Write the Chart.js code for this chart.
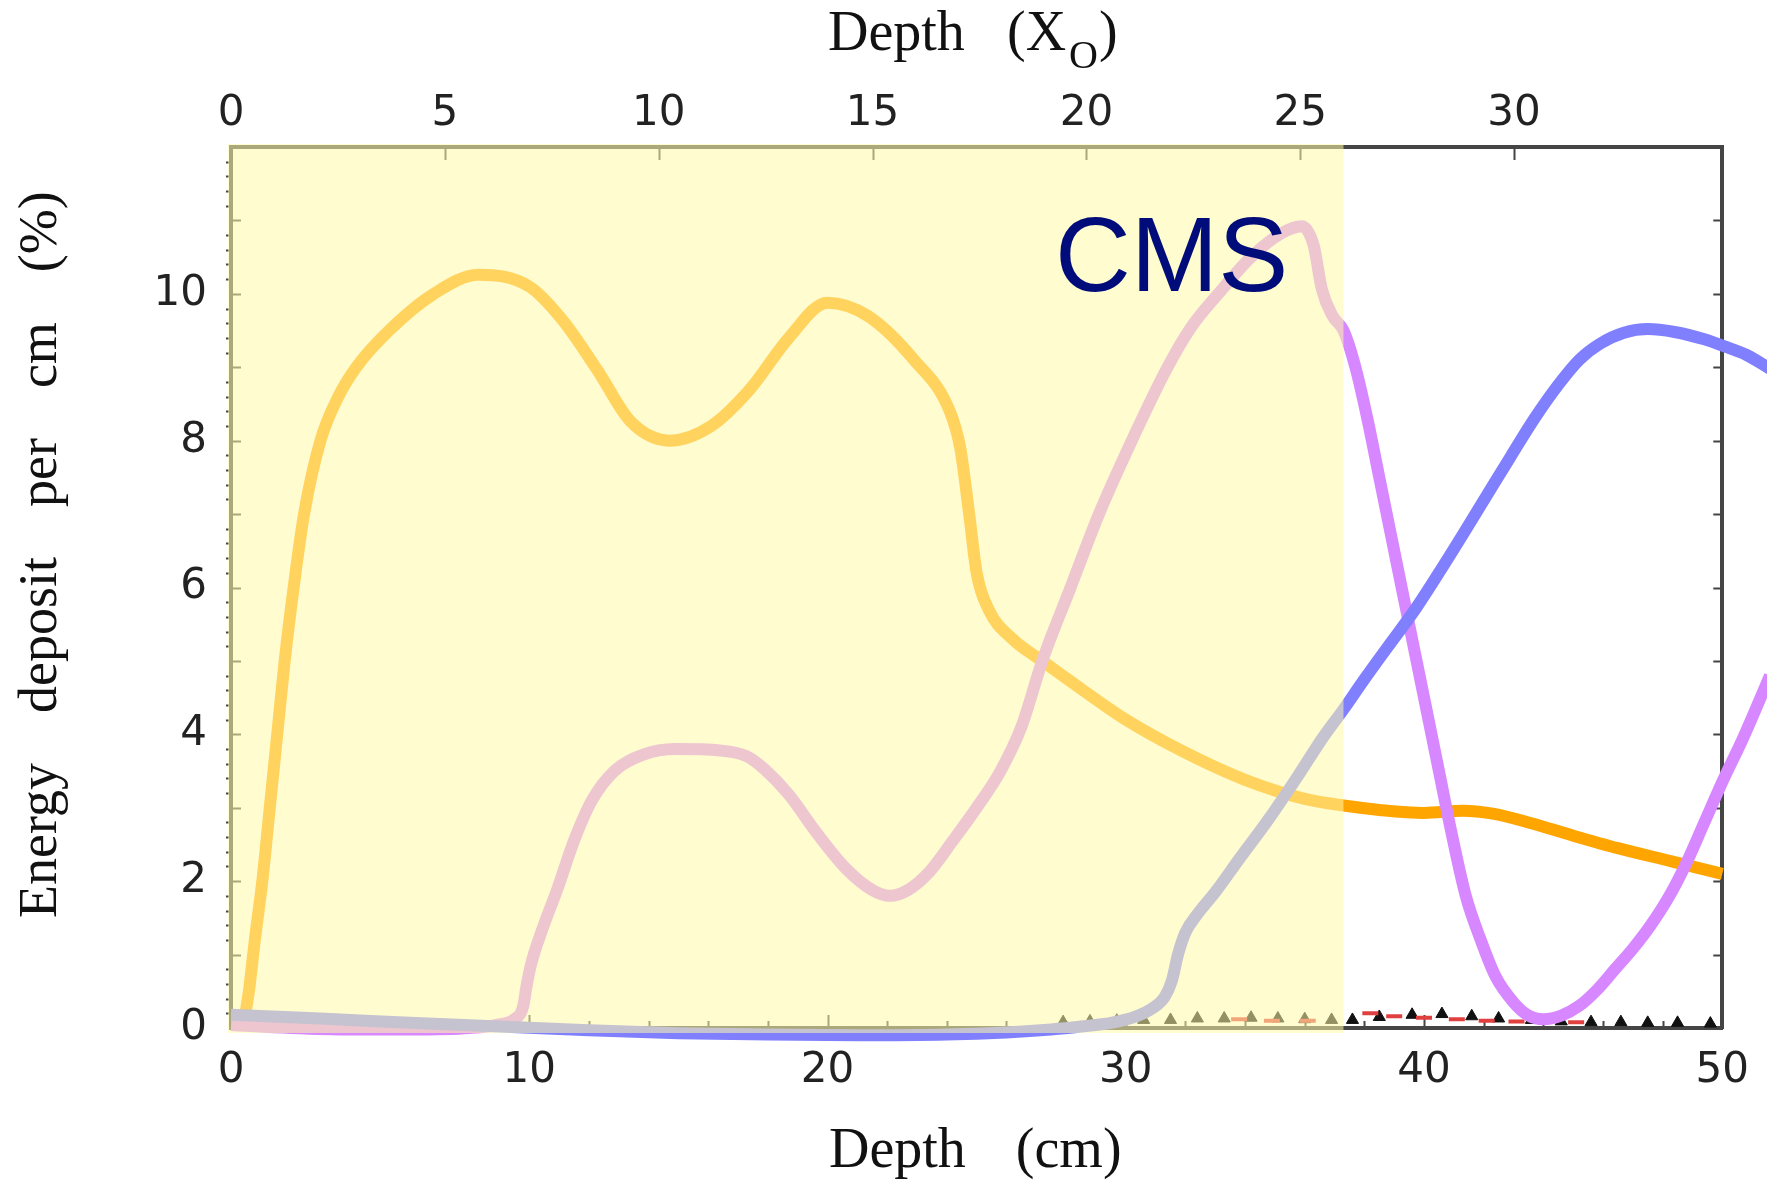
<!DOCTYPE html>
<html>
<head>
<meta charset="utf-8">
<script src="https://cdn.jsdelivr.net/npm/chart.js@4.4.1/dist/chart.umd.min.js"></script>
<style>
  html, body { margin: 0; padding: 0; background: #fff; }
  #wrap { width: 1767px; height: 1182px; }
</style>
</head>
<body>
<div id="wrap"><canvas id="depthChart" width="1767" height="1182"></canvas></div>
<script>
// longitudinal shower profiles: energy deposit per cm (%) against depth (cm / X0)
var CM_PER_X0 = 1.434;
var SHADE_END_CM = 37.3;   // calorimeter depth, about 26 X0

var yTicks = [0, 2, 4, 6, 8, 10];
var cmTicks = [0, 10, 20, 30, 40, 50];
var x0Ticks = [0, 5, 10, 15, 20, 25, 30];

var orangeX = [0.4, 0.6, 0.8, 1.05, 1.3, 1.55, 1.8, 2.1, 2.45, 3.0, 3.6, 4.2, 5.3, 6.8, 8.3, 10.0, 11.1, 12.3, 13.4, 14.7, 16.1, 17.4, 18.7, 20.0, 21.35, 22.9, 24.1, 24.45, 24.75, 25.0, 25.4, 26.2, 27.2, 28.5, 30, 32, 34, 36, 37.3, 38.5, 40, 41.3, 42.3, 43.5, 45, 46.5, 48.3, 50];
var orangeY = [0, 0.5, 1.2, 2.0, 3.0, 4.0, 5.0, 6.0, 7.0, 8.0, 8.6, 9.0, 9.5, 10.0, 10.26, 10.1, 9.65, 8.95, 8.26, 8.0, 8.2, 8.7, 9.4, 9.88, 9.7, 9.1, 8.4, 7.9, 7.0, 6.2, 5.7, 5.3, 5.0, 4.62, 4.2, 3.75, 3.38, 3.12, 3.03, 2.97, 2.93, 2.96, 2.92, 2.8, 2.62, 2.45, 2.27, 2.1];

var purpleX = [0, 2, 4, 6, 8, 9.0, 9.5, 9.8, 9.9, 10.05, 10.4, 10.95, 11.5, 12.1, 12.85, 13.8, 14.9, 16.4, 17.3, 17.9, 18.7, 19.65, 20.6, 21.5, 22.1, 22.7, 23.4, 24.2, 25.0, 25.8, 26.5, 27.2, 28.15, 29.1, 30.2, 31.4, 32.2, 33.1, 34.2, 35.2, 35.9, 36.3, 36.57, 36.93, 37.3, 37.7, 38.1, 38.5, 38.9, 39.3, 39.7, 40.1, 40.5, 40.9, 41.4, 41.9, 42.4, 43.0, 43.5, 44.0, 44.6, 45.2, 45.8, 46.4, 47.0, 47.6, 48.2, 48.8, 49.4, 50.0, 50.7, 51.6];
var purpleY = [0.04, 0.0, -0.02, -0.02, 0.0, 0.05, 0.12, 0.3, 0.55, 0.85, 1.3, 1.9, 2.55, 3.1, 3.5, 3.72, 3.8, 3.78, 3.7, 3.52, 3.18, 2.65, 2.18, 1.88, 1.8, 1.88, 2.12, 2.55, 3.0, 3.5, 4.1, 5.0, 6.0, 7.0, 8.0, 9.0, 9.55, 10.0, 10.5, 10.82, 10.92, 10.66, 10.07, 9.7, 9.5, 9.0, 8.3, 7.5, 6.7, 5.9, 5.1, 4.3, 3.5, 2.7, 1.8, 1.2, 0.7, 0.35, 0.17, 0.12, 0.17, 0.3, 0.52, 0.8, 1.08, 1.4, 1.78, 2.25, 2.8, 3.35, 3.95, 4.8];

var blueX = [0, 3, 6, 9, 12, 15, 18, 21, 24, 26, 27.5, 28.5, 29.5, 30.3, 30.9, 31.3, 31.55, 31.75, 32.0, 32.4, 33.0, 33.8, 34.8, 35.8, 36.6, 37.3, 38.0, 38.8, 39.7, 40.5, 41.3, 42.1, 42.9, 43.7, 44.5, 45.2, 45.9, 46.7, 47.5, 48.4, 49.4, 50.1, 50.8, 51.6];
var blueY = [0.18, 0.13, 0.07, 0.02, -0.03, -0.07, -0.09, -0.1, -0.09, -0.06, -0.02, 0.02, 0.07, 0.15, 0.27, 0.42, 0.65, 1.0, 1.3, 1.55, 1.85, 2.3, 2.85, 3.45, 3.95, 4.34, 4.75, 5.2, 5.7, 6.2, 6.72, 7.25, 7.78, 8.3, 8.76, 9.1, 9.32, 9.47, 9.52, 9.48, 9.38, 9.28, 9.17, 8.98];

// small near-zero markers of the other samples
var markX = [27.9, 28.8, 29.7, 30.6, 31.5, 32.4, 33.3, 34.2, 35.1, 36.0, 36.9, 37.6, 38.5, 39.6, 40.6, 41.6, 42.5, 43.6, 44.6, 45.6, 46.6, 47.5, 48.5, 49.6];
var markY = [0.08, 0.09, 0.1, 0.11, 0.11, 0.13, 0.13, 0.14, 0.13, 0.12, 0.11, 0.11, 0.15, 0.18, 0.19, 0.16, 0.13, 0.11, 0.09, 0.08, 0.08, 0.07, 0.07, 0.06];
var dashX = [33.8, 34.9, 36.1, 38.2, 39.0, 40.0, 41.1, 42.1, 43.1, 45.1];
var dashY = [0.12, 0.1, 0.1, 0.2, 0.16, 0.14, 0.12, 0.1, 0.09, 0.08];

function pts(xs, ys) {
  return xs.map(function (x, i) { return { x: x, y: ys[i] }; });
}

function curve(label, xs, ys, color) {
  return {
    type: 'line',
    label: label,
    data: pts(xs, ys),
    borderColor: color,
    borderWidth: 12,
    pointRadius: 0,
    cubicInterpolationMode: 'monotone',
    borderJoinStyle: 'round',
    clip: false
  };
}

function drawWords(ctx, words, x, y, gap) {
  words.forEach(function (w) {
    ctx.fillText(w, x, y);
    x += ctx.measureText(w).width + gap;
  });
}

// inward tick marks on all four sides of the frame
var frameTicks = {
  id: 'frameTicks',
  beforeDatasetsDraw: function (chart) {
    var ctx = chart.ctx, a = chart.chartArea;
    var x = chart.scales.x, x2 = chart.scales.x2, y = chart.scales.y;
    ctx.save();
    ctx.strokeStyle = '#454545';
    ctx.lineWidth = 2;
    ctx.beginPath();
    for (var i = 0; i <= 60; i++) {
      var py = Math.round(y.getPixelForValue(i * 0.2)) + 0.5;
      if (i % 5 === 0) {
        ctx.moveTo(a.left, py); ctx.lineTo(a.left + 10, py);
        ctx.moveTo(a.right, py); ctx.lineTo(a.right - 9, py);
      } else {
        ctx.moveTo(a.left - 5, py); ctx.lineTo(a.left, py);
      }
    }
    for (var c = 0; c <= 50; c += 2) {
      var px = Math.round(x.getPixelForValue(c)) + 0.5;
      ctx.moveTo(px, a.bottom); ctx.lineTo(px, a.bottom - (c % 10 === 0 ? 13 : 7));
    }
    for (var t = 0; t <= 30; t += 5) {
      var qx = Math.round(x2.getPixelForValue(t)) + 0.5;
      ctx.moveTo(qx, a.top); ctx.lineTo(qx, a.top + 13);
    }
    ctx.stroke();
    ctx.restore();
  }
};

// translucent band over the calorimeter depth
var calorimeterBand = {
  id: 'calorimeterBand',
  afterDatasetsDraw: function (chart) {
    var ctx = chart.ctx, x = chart.scales.x, y = chart.scales.y;
    var left = x.getPixelForValue(0) - 3;
    var right = x.getPixelForValue(SHADE_END_CM);
    var top = y.getPixelForValue(12) - 3;
    var bottom = y.getPixelForValue(0) + 5;
    ctx.save();
    ctx.fillStyle = 'rgba(255, 250, 170, 0.55)';
    ctx.fillRect(left, top, right - left, bottom - top);
    ctx.restore();
  }
};

// axis titles and the detector name
var annotations = {
  id: 'annotations',
  afterDraw: function (chart) {
    var ctx = chart.ctx;
    ctx.save();
    ctx.fillStyle = '#111';
    ctx.textBaseline = 'alphabetic';
    ctx.textAlign = 'left';
    ctx.font = '56px "Liberation Serif"';
    drawWords(ctx, ['Depth', '(cm)'], 829, 1167, 50);

    ctx.fillText('Depth', 828, 50);
    var px = 1007;
    ctx.fillText('(X', px, 50);
    px += ctx.measureText('(X').width + 3;
    ctx.font = '40px "Liberation Serif"';
    ctx.fillText('O', px, 68);
    px += ctx.measureText('O').width + 1;
    ctx.font = '56px "Liberation Serif"';
    ctx.fillText(')', px, 50);

    ctx.save();
    ctx.translate(56, 918);
    ctx.rotate(-Math.PI / 2);
    ctx.font = '54px "Liberation Serif"';
    drawWords(ctx, ['Energy', 'deposit', 'per', 'cm', '(%)'], 0, 0, 50);
    ctx.restore();

    ctx.fillStyle = '#000c7a';
    ctx.font = '105px "Liberation Sans"';
    ctx.fillText('CMS', 1055, 291);
    ctx.restore();
  }
};

var tickFont = { family: '"DejaVu Sans"', size: 42 };

new Chart(document.getElementById('depthChart').getContext('2d'), {
  type: 'line',
  data: {
    datasets: [
      curve('blue', blueX, blueY, '#8080ff'),
      curve('violet', purpleX, purpleY, '#d787ff'),
      curve('orange', orangeX, orangeY, '#ffa500'),
      {
        type: 'scatter',
        data: pts(dashX, dashY),
        pointStyle: 'line',
        pointRadius: 8,
        borderWidth: 4,
        borderColor: '#e04040',
        showLine: false
      },
      {
        type: 'scatter',
        data: pts(markX, markY),
        pointStyle: 'triangle',
        pointRadius: 7,
        backgroundColor: '#111',
        borderColor: '#111',
        borderWidth: 1,
        showLine: false
      }
    ]
  },
  options: {
    responsive: false,
    animation: false,
    layout: { padding: 0 },
    plugins: { legend: { display: false }, tooltip: { enabled: false } },
    scales: {
      x: {
        type: 'linear', position: 'bottom', bounds: 'data',
        // fixed 0-50 cm window; curves run on past the right edge
        afterDataLimits: function (s) { s.min = 0; s.max = 50; },
        afterFit: function (s) { s.height = 154; },
        afterBuildTicks: function (s) { s.ticks = cmTicks.map(function (v) { return { value: v }; }); },
        ticks: { font: tickFont, color: '#222', padding: 18, maxRotation: 0 },
        grid: { display: false, drawTicks: false },
        border: { display: true, color: '#454545', width: 4 }
      },
      x2: {
        type: 'linear', position: 'top', min: 0, max: 50 / CM_PER_X0,
        afterFit: function (s) { s.height = 147; },
        afterBuildTicks: function (s) { s.ticks = x0Ticks.map(function (v) { return { value: v }; }); },
        ticks: { font: tickFont, color: '#222', padding: 8, maxRotation: 0 },
        grid: { display: false, drawTicks: false },
        border: { display: true, color: '#454545', width: 4 }
      },
      y: {
        type: 'linear', position: 'left', min: 0, max: 12,
        afterFit: function (s) { s.width = 231; },
        afterBuildTicks: function (s) { s.ticks = yTicks.map(function (v) { return { value: v }; }); },
        ticks: { font: tickFont, color: '#222', padding: 24 },
        grid: { display: false, drawTicks: false },
        border: { display: true, color: '#454545', width: 4 }
      },
      y2: {
        type: 'linear', position: 'right', min: 0, max: 12,
        afterFit: function (s) { s.width = 43; },
        ticks: { display: false },
        grid: { display: false, drawTicks: false },
        border: { display: true, color: '#454545', width: 4 }
      }
    }
  },
  plugins: [frameTicks, calorimeterBand, annotations]
});
</script>
</body>
</html>
